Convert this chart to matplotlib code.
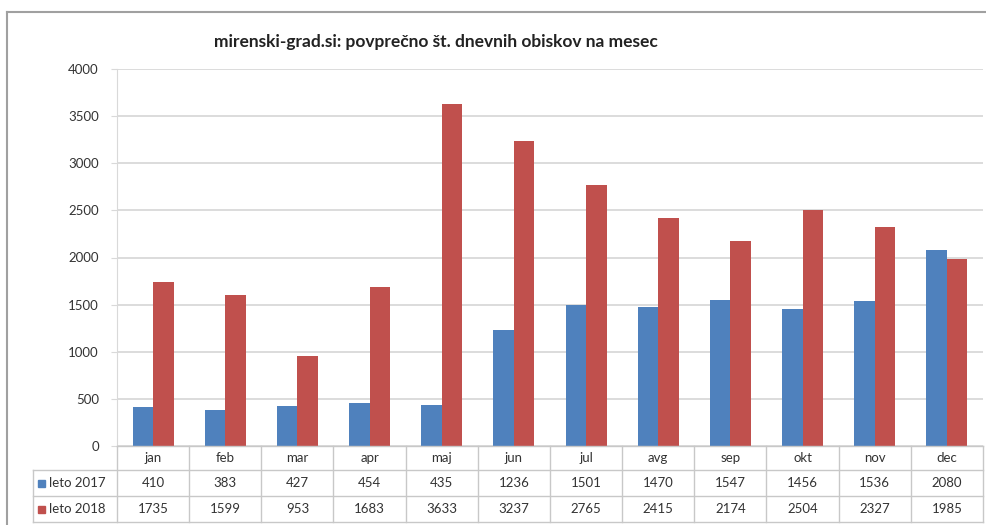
import matplotlib.pyplot as plt
import numpy as np
from matplotlib.lines import Line2D
from matplotlib.patches import Rectangle

months = ['jan', 'feb', 'mar', 'apr', 'maj', 'jun', 'jul', 'avg', 'sep', 'okt', 'nov', 'dec']
v2017 = [410, 383, 427, 454, 435, 1236, 1501, 1470, 1547, 1456, 1536, 2080]
v2018 = [1735, 1599, 953, 1683, 3633, 3237, 2765, 2415, 2174, 2504, 2327, 1985]
series_names = ['leto 2017', 'leto 2018']
title = 'mirenski-grad.si: povprečno št. dnevnih obiskov na mesec'
yticks = [0, 500, 1000, 1500, 2000, 2500, 3000, 3500, 4000]

blue = '#4F81BD'
red = '#C0504D'
grid_c = '#d9d9d9'
W, H = 987, 525

plt.rcParams['font.family'] = ['Lato', 'DejaVu Sans']

fig = plt.figure(figsize=(W / 100, H / 100), dpi=100)

def fx(px):
    return px / W

def fy(py):
    return 1 - py / H

# plot area
x0, x1 = 117, 983
y_top, y_zero = 69, 446
ax = fig.add_axes([fx(x0), fy(y_zero), fx(x1 - x0), fy(y_top) - fy(y_zero)])
x = np.arange(len(months))
bw = 0.285
ax.bar(x - bw / 2, v2017, bw, color=blue, zorder=3)
ax.bar(x + bw / 2, v2018, bw, color=red, zorder=3)
ax.set_xlim(-0.5, len(months) - 0.5)
ax.set_ylim(0, 4000)
ax.set_yticks(yticks)
ax.set_yticklabels([str(t) for t in yticks], fontsize=9.5, color='#333333')
ax.set_xticks([])
ax.yaxis.grid(True, color=grid_c, linewidth=1.3, zorder=0)
for s in ['top', 'right', 'bottom']:
    ax.spines[s].set_visible(False)
ax.spines['left'].set_color(grid_c)
ax.tick_params(axis='y', length=4, color=grid_c, pad=9)

fig.text(fx(436), fy(42), title, ha='center', va='center', fontsize=12.5,
         fontweight='bold', color='#222222')

# data table under the chart
col_w = (x1 - x0) / len(months)
rows = [y_zero, 470, 496, 522]
lc = '#c8c8c8'
lw = 1.0
tl = fig.add_artist
# horizontal lines
tl(Line2D([fx(x0), fx(x1)], [fy(rows[0])] * 2, color=lc, lw=lw))
for r in rows[1:]:
    tl(Line2D([fx(33), fx(x1)], [fy(r)] * 2, color=lc, lw=lw))
# vertical lines
for i in range(len(months) + 1):
    xx = x0 + i * col_w
    tl(Line2D([fx(xx)] * 2, [fy(rows[0]), fy(rows[3])], color=lc, lw=lw))
tl(Line2D([fx(33)] * 2, [fy(rows[1]), fy(rows[3])], color=lc, lw=lw))

for i, m in enumerate(months):
    cx = x0 + (i + 0.5) * col_w
    fig.text(fx(cx), fy((rows[0] + rows[1]) / 2), m, ha='center', va='center', fontsize=9.5, color='#333333')
    fig.text(fx(cx), fy((rows[1] + rows[2]) / 2), str(v2017[i]), ha='center', va='center', fontsize=9.5, color='#333333')
    fig.text(fx(cx), fy((rows[2] + rows[3]) / 2), str(v2018[i]), ha='center', va='center', fontsize=9.5, color='#333333')

for k, (name, c) in enumerate(zip(series_names, [blue, red])):
    cy = (rows[k + 1] + rows[k + 2]) / 2
    fig.add_artist(Rectangle((fx(38), fy(cy + 3.5)), fx(7), fy(0) - fy(7), color=c, transform=fig.transFigure))
    fig.text(fx(49), fy(cy), name, ha='left', va='center', fontsize=9.5, color='#333333')

# outer chart frame
tl(Line2D([fx(7), 1], [fy(12)] * 2, color='#a0a0a0', lw=1.5))
tl(Line2D([fx(7)] * 2, [fy(12), 0], color='#a0a0a0', lw=1.5))

fig.savefig('out.png', dpi=100)
